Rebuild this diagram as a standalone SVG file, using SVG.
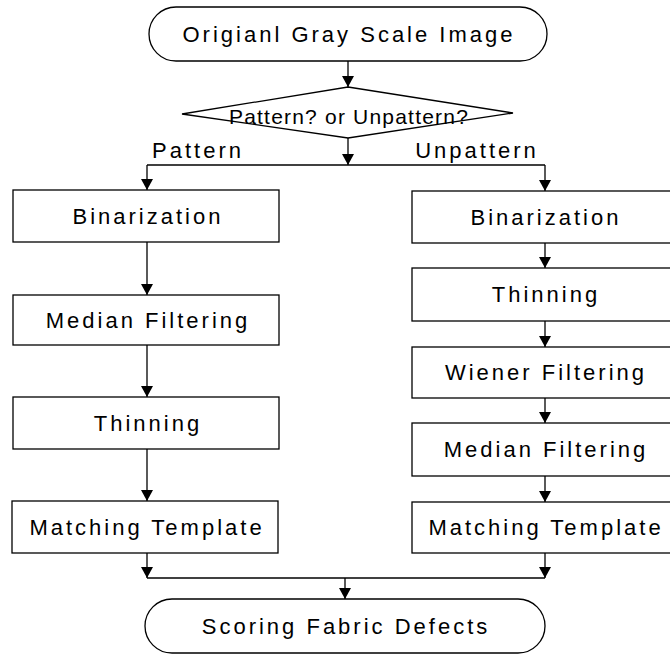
<svg xmlns="http://www.w3.org/2000/svg" width="670" height="656" viewBox="0 0 670 656">
<style>
.n{fill:#fff;stroke:#000;stroke-width:1.3}
.t{font-family:"Liberation Sans",Arial,sans-serif;font-size:22px;letter-spacing:3px;fill:#000;text-anchor:middle}
.d{font-size:21px;letter-spacing:1.2px}
.c{fill:none;stroke:#000;stroke-width:1.3}
</style>
<defs>
<marker id="ah" markerUnits="userSpaceOnUse" viewBox="0 0 11 12" markerWidth="11" markerHeight="12" refX="11" refY="6" orient="auto">
<path d="M0,0 L11,6 L0,12 z" fill="#000"/>
</marker>
</defs>
<rect width="670" height="656" fill="#fff"/>
<g id="connectors" class="c">
<path d="M348,61 V87" marker-end="url(#ah)"/>
<path d="M348,138 V165" marker-end="url(#ah)"/>
<path d="M147,165 H545"/>
<path d="M147,165 V190" marker-end="url(#ah)"/>
<path d="M545,165 V191" marker-end="url(#ah)"/>
<path d="M147,242 V295" marker-end="url(#ah)"/>
<path d="M147,345 V397" marker-end="url(#ah)"/>
<path d="M147,449 V501" marker-end="url(#ah)"/>
<path d="M545,243 V268" marker-end="url(#ah)"/>
<path d="M545,321 V347" marker-end="url(#ah)"/>
<path d="M545,398 V423" marker-end="url(#ah)"/>
<path d="M545,476 V502" marker-end="url(#ah)"/>
<path d="M147,553 V578" marker-end="url(#ah)"/>
<path d="M545,553 V578" marker-end="url(#ah)"/>
<path d="M147,578 H545"/>
<path d="M345,578 V599" marker-end="url(#ah)"/>
</g>
<g id="labels">
<text class="t" x="198" y="158">Pattern</text>
<text class="t" x="477" y="158">Unpattern</text>
</g>
<g id="start">
<rect class="n" x="149" y="7" width="398" height="54" rx="27" ry="27"/>
<text class="t" x="349" y="42">Origianl Gray Scale Image</text>
</g>
<g id="decision">
<polygon class="n" points="348,87 513,113 348,138 182,114"/>
<text class="t d" x="349" y="124">Pattern? or Unpattern?</text>
</g>
<g id="l-binarization">
<rect class="n" x="13" y="190" width="266" height="52"/>
<text class="t" x="148" y="224">Binarization</text>
</g>
<g id="l-median">
<rect class="n" x="13" y="295" width="266" height="50"/>
<text class="t" x="148" y="328">Median Filtering</text>
</g>
<g id="l-thinning">
<rect class="n" x="13" y="397" width="266" height="52"/>
<text class="t" x="148" y="431">Thinning</text>
</g>
<g id="l-matching">
<rect class="n" x="12" y="501" width="266" height="52"/>
<text class="t" x="147" y="535">Matching Template</text>
</g>
<g id="r-binarization">
<rect class="n" x="412" y="191" width="270" height="52"/>
<text class="t" x="546" y="225">Binarization</text>
</g>
<g id="r-thinning">
<rect class="n" x="412" y="268" width="270" height="53"/>
<text class="t" x="546" y="302">Thinning</text>
</g>
<g id="r-wiener">
<rect class="n" x="412" y="347" width="270" height="51"/>
<text class="t" x="546" y="380">Wiener Filtering</text>
</g>
<g id="r-median">
<rect class="n" x="412" y="423" width="270" height="53"/>
<text class="t" x="546" y="457">Median Filtering</text>
</g>
<g id="r-matching">
<rect class="n" x="412" y="502" width="270" height="51"/>
<text class="t" x="546" y="535">Matching Template</text>
</g>
<g id="end">
<rect class="n" x="145" y="599" width="400" height="54" rx="27" ry="27"/>
<text class="t" x="346" y="634">Scoring Fabric Defects</text>
</g>
</svg>
